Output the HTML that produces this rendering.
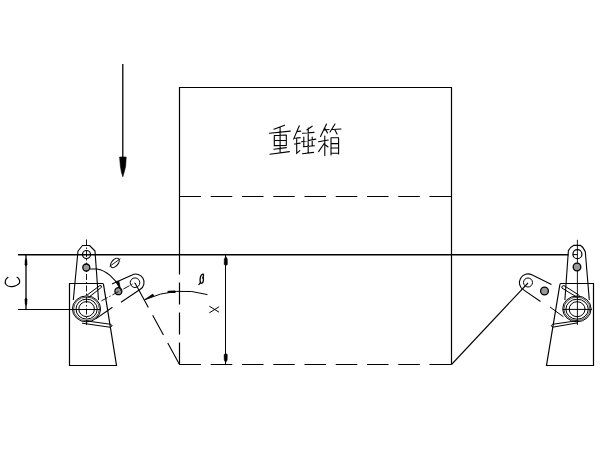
<!DOCTYPE html>
<html><head><meta charset="utf-8"><style>
html,body{margin:0;padding:0;background:#fff;width:600px;height:450px;overflow:hidden;font-family:"Liberation Sans",sans-serif;}
svg{display:block}
</style></head><body>
<svg width="600" height="450" viewBox="0 0 600 450">
<rect width="600" height="450" fill="#fff"/>
<g fill="none" stroke="#000" stroke-width="1.2" stroke-linecap="butt" stroke-linejoin="miter">
  <!-- load arrow -->
  <path d="M122.8,64V160" stroke-width="1.3"/>
  <path d="M119.6,157H126.2L125.6,166.5L124.2,172L122.8,176.8L121.4,172L120.4,166.5Z" fill="#000" stroke-width="0.6"/>
  <!-- box -->
  <path d="M179.5,254.5V87.5H451.5V364.5"/>
  <path d="M179.5,196.5H451.5" stroke-dasharray="21.5 9.75"/>
  <path d="M179.5,364.5H451.5" stroke-dasharray="21.5 9.75"/>
  <path d="M179.5,364.5V254.5" stroke-dasharray="22 8"/>
  <!-- horizontal lines -->
  <path d="M18,254.7H568.5" stroke-width="1.35"/>
  <path d="M18,309.5H100"/>
  <!-- dim C -->
  <path d="M26,255V309" stroke-width="1.3"/>
  <path d="M24.9,265L25.2,260L26,258.5L26.8,260L27.1,265L26,266Z M24.9,299L25.2,304L26,305.5L26.8,304L27.1,299L26,298Z" fill="#000" stroke-width="0.5"/>
  <!-- dim X -->
  <path d="M225.5,255V364" stroke-width="1"/>
  <path d="M225.8,256.5L227.3,259L227.4,264.5L225.8,265.5L224.2,264.5L224.3,259Z M225.7,362.5L227.2,360L227.3,354.5L225.7,353.5L224.1,354.5L224.2,360Z" fill="#000" stroke-width="0.5"/>
  <!-- C letter (rotated) -->
  <path d="M8.3,277C5.5,279 4.5,282 6,284.5C7.5,286.5 10,286.8 12.3,286.6C15,286.3 18,285 19.5,283C20,280.5 18.5,278 16.7,277" stroke-width="1.2"/>
  <!-- X letter -->
  <path d="M209.3,306.2L219.1,312.2M209.3,312.9L219.1,306.7" stroke-width="1"/>
  <!-- beta -->
  <path d="M198.6,284.8L200.3,282.8C199.8,279 200.3,275.5 202.3,274.3C203.5,273.7 204,275 203,277.2L204,276.8M202.8,277.3C203.8,278.7 203.8,282 201.8,283.2C200.5,283.6 200,282.4 200.6,281" stroke-width="1.3"/>
  <!-- phi -->
  <ellipse cx="114.9" cy="262.9" rx="5.5" ry="3.2" transform="rotate(-50 114.9 262.9)" stroke-width="1.1"/>
  <path d="M109.6,266.4L120.4,258.7" stroke-width="0.9"/>

  <!-- beta arc -->
  <path d="M144.7,299.7Q176.2,285.6 207.5,294.6" stroke-width="1"/>
  <path d="M144.7,299.7L152.8,294.1L153.8,295.9Z" fill="#000" stroke-width="0.7"/><path d="M168.6,291.9L174.6,291.7" stroke-width="2.4" stroke-linecap="round"/>

  <!-- left dashed swing line -->
  <path d="M179.5,364.5L135,283" stroke-dasharray="24.5 9 22.5 9 30" stroke-width="1.1"/>
  <!-- right swing line -->
  <path d="M451.5,364.5L528,283" stroke-width="1.1"/>

  <!-- LEFT SUPPORT -->
  <!-- base -->
  <path d="M69.5,365.5V283.5H102.5Q103.5,283.5 103.6,285L116.5,365.5Z" stroke-width="1.2"/>
  <!-- arm outline -->
  <path d="M73.3,300L78,251L82.5,245.5H89.5L95,251L98.5,300" stroke-width="1.1" stroke-linejoin="round"/>
  <!-- arm centerline -->
  <path d="M86.5,239.5V325" stroke-width="0.9" stroke-dasharray="6 2 1.5 2"/>
  <!-- holes -->
  <circle cx="86.5" cy="254.5" r="4"/>
  <circle cx="86.3" cy="267.5" r="3.5" stroke-width="1.3" fill="#999"/>
  <!-- hub -->
  <ellipse cx="86.5" cy="308.9" rx="14.1" ry="13" stroke-width="1"/>
  <ellipse cx="86.5" cy="308.9" rx="12.9" ry="11.8" stroke-width="0.7"/>
  <ellipse cx="86.6" cy="309.1" rx="10.6" ry="10" stroke-width="1"/>
  <ellipse cx="86.6" cy="309.1" rx="7.8" ry="7.5" stroke-width="1"/>
  <!-- spring arm up -->
  <path d="M86.5,295.5L99.8,285.6Q101.5,285 101.6,287.2L88.5,297.5" stroke-width="1"/>
  <!-- spring arm down -->
  <path d="M87,321L110.2,324.2L112.3,325.6L110.4,327.3L82,323.2" stroke-width="1" stroke-linejoin="round"/>
  <!-- link -->
  <path d="M112,283.9L132.1,274.9A8.3,8.3 0 0 1 140.3,289.3L121,302.3M112.5,307.2L96,318.6" stroke-width="1.1"/>
  <circle cx="135" cy="282.7" r="4.8" stroke-width="1"/>
  <circle cx="118.4" cy="291.2" r="3.5" stroke-width="1.3" fill="#999"/>
  <path d="M101.4,300.9L135,282.7" stroke-width="0.9" stroke-dasharray="7 2 1.5 2"/>
    <!-- phi arc -->
  <path d="M90,269H97C106,270.5 115,278 120,288" stroke-width="1.1"/>
  <path d="M116.2,281.5L120.5,289.5L118.8,281Z" fill="#000" stroke-width="0.7"/>

  <!-- RIGHT SUPPORT -->
  <path d="M593.5,365.5V283.5H561Q560,283.5 559.8,285L546.5,365.5Z" stroke-width="1.2"/>
  <path d="M564.9,300L568.4,250.5Q569.5,247.5 573.5,245.4H580.5Q583.5,247 585.3,251.8L589.3,300" stroke-width="1.1"/>
  <path d="M572.9,254.6H577.4" stroke-width="1"/>
  <path d="M577.4,239.8V325" stroke-width="0.9"/>
  <circle cx="577.4" cy="254.2" r="4.5"/>
  <circle cx="577" cy="267" r="3.8" stroke-width="1.3" fill="#999"/>
  <ellipse cx="576.9" cy="308.9" rx="14.2" ry="12.9" stroke-width="1"/>
  <ellipse cx="576.9" cy="308.9" rx="13" ry="11.7" stroke-width="0.7"/>
  <ellipse cx="577.1" cy="309.2" rx="11.2" ry="10" stroke-width="1"/>
  <ellipse cx="577.1" cy="309.2" rx="7.9" ry="7.5" stroke-width="1"/>
  <path d="M563,309.4H592" stroke-width="1"/>
  <path d="M579.5,295.5L564,285.6Q561.5,285.5 561.8,288L578,297.8" stroke-width="1"/>
  <path d="M578,320.6L552.5,324.3Q550.2,325.5 552.5,327.2L578,322.8" stroke-width="1"/>
  <!-- right link -->
  <path d="M551.5,284.4L531.8,274.8A8.6,8.6 0 0 0 523.6,289.9L540.5,301.5" stroke-width="1.1"/>
  <circle cx="528" cy="282.5" r="4.5" stroke-width="1"/>
  <circle cx="544.5" cy="291" r="3.9" stroke-width="1.3" fill="#999"/>
  <path d="M550,307L563.3,316.7" stroke-width="1"/>

  <!-- CHINESE TEXT 重锤箱 -->
  <g stroke-width="1.1" stroke-linecap="round">
    <!-- 重 -->
    <path d="M273.9,129.3L284.6,125.3 M269.4,133.3L290.3,131.1 M274.3,135.5V145.8 M286.3,135V145.5 M274.3,135.5L286.3,135 M274.3,140.5L286.3,140.2 M274.3,145.6L286.3,145.4 M280.1,127V153 M273.9,149.3L286.3,147.6 M269.9,154.2L289.4,151.6"/>
    <!-- 锤 -->
    <path d="M299.3,125.8L293.6,139.1 M296.7,131.6L300.7,131.1 M294.8,138.3L300.2,137.6 M294.4,144L300.2,143.1 M296.7,137.8V153.3L299.8,150.7 M312.2,126.2L306.9,129.8 M302.4,133.3L314,132.4 M308.2,128V153 M301.6,141.8L315.8,139.1 M303.8,137V146.5 M312.2,137V146 M303.3,146.7L314.4,145.8 M302.4,153.8L313.6,152.4"/>
    <!-- 箱 -->
    <path d="M326.5,124L320.5,136.5 M323.5,130L329,129.5 M325,128.5L327.5,133 M335,124L330,132 M332.5,129.5L341,129 M335,130L337,134 M318.6,141.8L328.3,140 M324.8,136V155.6 M324.5,143L318.6,151.6 M325.5,145L328,147 M331,137.8V155 M338.6,137.8V154 M331,137.8L338.6,137.8 M331,143.6L338.6,143.6 M331,148L338.6,148 M331,153.3L338.6,153.3"/>
  </g>
</g>
</svg>
</body></html>
